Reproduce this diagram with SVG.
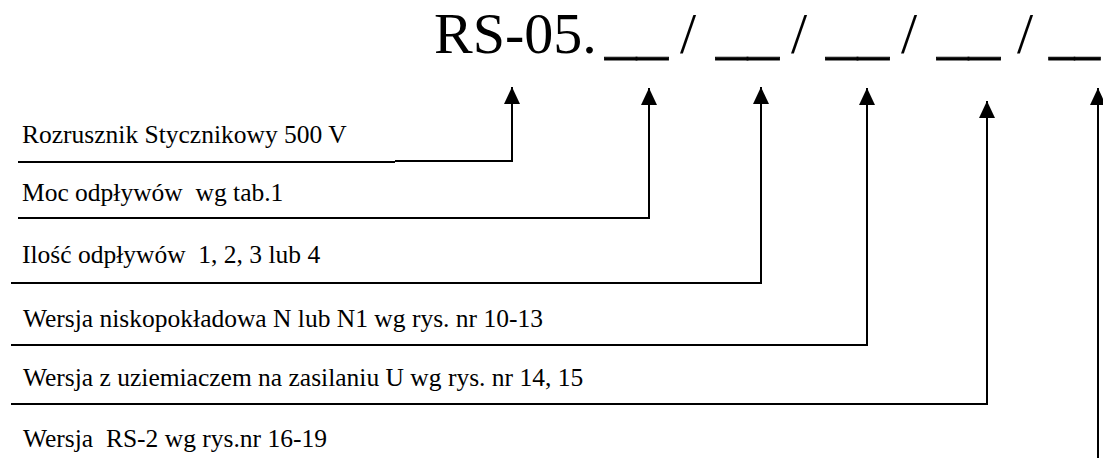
<svg xmlns="http://www.w3.org/2000/svg" width="1103" height="461" viewBox="0 0 1103 461">
<style>
.t{font-family:"Liberation Serif","Times New Roman",serif;fill:#000;white-space:pre}
.title{font-size:58px}
.us{stroke:#000;stroke-width:0.8}
.row{font-size:25.5px}
.ln{stroke:#000;stroke-width:2;fill:none}
</style>
<defs>
<marker id="ah" markerUnits="userSpaceOnUse" markerWidth="17" markerHeight="16" refX="17" refY="8" orient="auto" viewBox="0 0 17 16">
<path d="M0,0 L17,8 L0,16 Z" fill="#000"/>
</marker>
</defs>
<rect width="1103" height="461" fill="#fff"/>
<g id="title">
<text class="t title" y="53"><tspan x="434">RS-05.</tspan><tspan class="us" x="605" textLength="63" lengthAdjust="spacingAndGlyphs">__</tspan><tspan x="680">/</tspan><tspan class="us" x="716" textLength="63" lengthAdjust="spacingAndGlyphs">__</tspan><tspan x="791">/</tspan><tspan class="us" x="826" textLength="63" lengthAdjust="spacingAndGlyphs">__</tspan><tspan x="901">/</tspan><tspan class="us" x="937" textLength="63" lengthAdjust="spacingAndGlyphs">__</tspan><tspan x="1017">/</tspan></text>
<text class="t title us" transform="translate(1049 53) scale(0.88 1)" x="0" y="0">__</text>
</g>
<g id="row1"><text class="t row" x="22" y="143">Rozrusznik Stycznikowy 500 V</text></g>
<g id="row2"><text class="t row" x="22" y="201">Moc odpływów  wg tab.1</text></g>
<g id="row3"><text class="t row" x="22" y="263">Ilość odpływów  1, 2, 3 lub 4</text></g>
<g id="row4"><text class="t row" x="23" y="327">Wersja niskopokładowa N lub N1 wg rys. nr 10-13</text></g>
<g id="row5"><text class="t row" x="23" y="386">Wersja z uziemiaczem na zasilaniu U wg rys. nr 14, 15</text></g>
<g id="row6"><text class="t row" x="23" y="447">Wersja  RS-2 wg rys.nr 16-19</text></g>
<g id="connectors">
<path class="ln" d="M18,162 H395"/>
<path class="ln" d="M395,161 H512 V87" marker-end="url(#ah)"/>
<path class="ln" d="M18,218 H649 V88" marker-end="url(#ah)"/>
<path class="ln" d="M11,283 H761 V87" marker-end="url(#ah)"/>
<path class="ln" d="M11,345 H867 V88" marker-end="url(#ah)"/>
<path class="ln" d="M11,404 H987 V101" marker-end="url(#ah)"/>
<path class="ln" d="M1098,458 V88" marker-end="url(#ah)"/>
</g>
</svg>
